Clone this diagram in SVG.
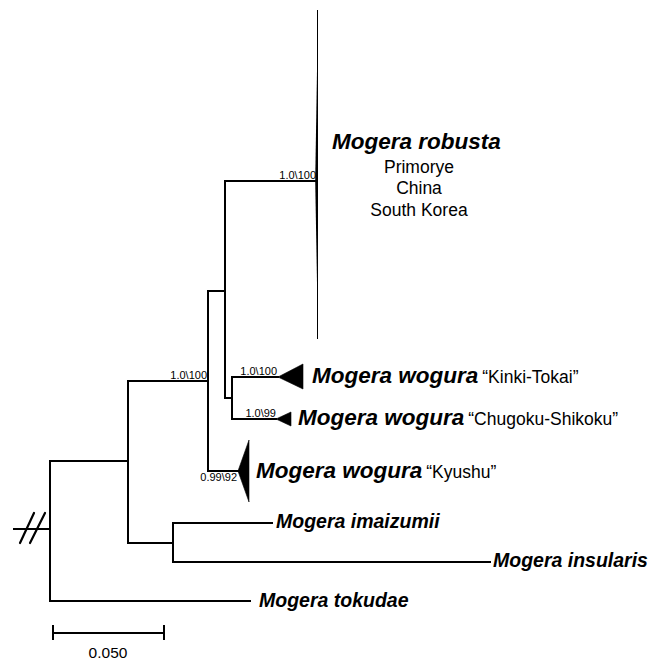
<svg xmlns="http://www.w3.org/2000/svg" width="665" height="662" viewBox="0 0 665 662">
  <style>
    .br { stroke: #000; stroke-width: 2; fill: none; stroke-linecap: square; }
    .clade { fill: #000; stroke: #000; stroke-width: 0.6; stroke-linejoin: miter; }
    .taxon { font-family: "Liberation Sans", Arial, sans-serif; font-weight: bold; font-style: italic; fill: #000; }
    .pop { font-family: "Liberation Sans", Arial, sans-serif; fill: #000; }
    .sup { font-family: "Liberation Sans", Arial, sans-serif; font-size: 11px; fill: #000; }
  </style>
  <rect width="665" height="662" fill="#fff"/>

  <!-- branches -->
  <g id="connectors">
    <!-- truncated root branch -->
    <line class="br" x1="14" y1="529" x2="50" y2="529"/>
    <line x1="34" y1="513" x2="20" y2="543" stroke="#000" stroke-width="2.2" stroke-linecap="round"/>
    <line x1="45" y1="513" x2="30" y2="543" stroke="#000" stroke-width="2.2" stroke-linecap="round"/>
    <!-- root -->
    <line class="br" x1="50" y1="461" x2="50" y2="601"/>
    <line class="br" x1="50" y1="461" x2="128" y2="461"/>
    <line class="br" x1="50" y1="601" x2="250" y2="601"/>
    <!-- ingroup -->
    <line class="br" x1="128" y1="381" x2="128" y2="543"/>
    <line class="br" x1="128" y1="381" x2="208" y2="381"/>
    <line class="br" x1="128" y1="543" x2="173" y2="543"/>
    <!-- imaizumii / insularis -->
    <line class="br" x1="173" y1="523" x2="173" y2="562"/>
    <line class="br" x1="173" y1="523" x2="272" y2="523"/>
    <line class="br" x1="173" y1="562" x2="490" y2="562"/>
    <!-- robusta + wogura -->
    <line class="br" x1="208" y1="291" x2="208" y2="471"/>
    <line class="br" x1="208" y1="291" x2="225" y2="291"/>
    <line class="br" x1="208" y1="471" x2="238" y2="471"/>
    <line class="br" x1="225" y1="181" x2="225" y2="398"/>
    <line class="br" x1="225" y1="181" x2="315" y2="181"/>
    <line class="br" x1="225" y1="398" x2="232" y2="398"/>
    <line class="br" x1="232" y1="377" x2="232" y2="419"/>
    <line class="br" x1="232" y1="377" x2="278" y2="377"/>
    <line class="br" x1="232" y1="419" x2="276" y2="419"/>
  </g>

  <!-- support values -->
  <g id="support">
    <text class="sup" x="316" y="179" text-anchor="end">1.0\100</text>
    <text class="sup" x="207" y="379" text-anchor="end">1.0\100</text>
    <text class="sup" x="277" y="375" text-anchor="end">1.0\100</text>
    <text class="sup" x="276" y="417" text-anchor="end">1.0\99</text>
    <text class="sup" x="237" y="481" text-anchor="end">0.99\92</text>
  </g>

  <g id="robusta">
    <polygon points="315.2,181 318,10 318,339" fill="#000"/>
    <line x1="317.5" y1="10" x2="317.5" y2="339" stroke="#000" stroke-width="1"/>
    <text class="taxon" x="332" y="149" font-size="22.5">Mogera robusta</text>
    <text class="pop" x="419" y="173" font-size="17.5" text-anchor="middle">Primorye</text>
    <text class="pop" x="419" y="194" font-size="17.5" text-anchor="middle">China</text>
    <text class="pop" x="419" y="216" font-size="17.5" text-anchor="middle">South Korea</text>
  </g>

  <g id="wogura-kinki-tokai">
    <polygon class="clade" points="278,377 303,364 303,389"/>
    <text x="312" y="383" font-size="22.5"><tspan class="taxon">Mogera wogura</tspan><tspan class="pop" font-size="17.5" dx="4">“Kinki-Tokai”</tspan></text>
  </g>

  <g id="wogura-chugoku-shikoku">
    <polygon class="clade" points="276,419 291,412 291,426"/>
    <text x="298" y="425" font-size="22.5"><tspan class="taxon">Mogera wogura</tspan><tspan class="pop" font-size="17.5" dx="4">“Chugoku-Shikoku”</tspan></text>
  </g>

  <g id="wogura-kyushu">
    <polygon class="clade" points="238,471 249,440 249,502"/>
    <text x="256" y="478" font-size="22.5"><tspan class="taxon">Mogera wogura</tspan><tspan class="pop" font-size="17.5" dx="4">“Kyushu”</tspan></text>
  </g>

  <g id="imaizumii">
    <text class="taxon" x="276" y="528" font-size="19.5">Mogera imaizumii</text>
  </g>
  <g id="insularis">
    <text class="taxon" x="493" y="567" font-size="19.5">Mogera insularis</text>
  </g>
  <g id="tokudae">
    <text class="taxon" x="259" y="607" font-size="19.5">Mogera tokudae</text>
  </g>

  <!-- scale bar -->
  <g id="scale">
    <line class="br" x1="53" y1="633" x2="164" y2="633" stroke-linecap="butt"/>
    <line class="br" x1="53" y1="626" x2="53" y2="639" stroke-linecap="butt"/>
    <line class="br" x1="164" y1="626" x2="164" y2="639" stroke-linecap="butt"/>
    <text class="pop" x="108" y="658" font-size="15.5" text-anchor="middle">0.050</text>
  </g>
</svg>
